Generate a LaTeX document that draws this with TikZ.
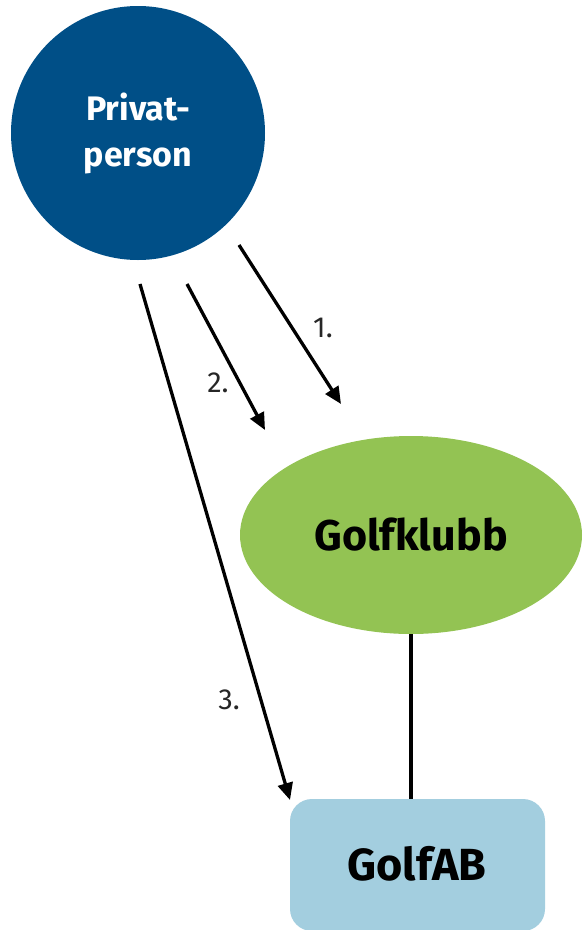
\documentclass[tikz,border=0pt]{standalone}
\usepackage{fontspec}
\setmainfont{Fira Sans}
\usetikzlibrary{shapes.geometric,arrows.meta}
\definecolor{pblue}{HTML}{004F87}
\definecolor{kgreen}{HTML}{93C353}
\definecolor{abblue}{HTML}{A3CEDF}
\begin{document}
\begin{tikzpicture}[x=1pt,y=-1pt,
  flow/.style={line width=3.3pt,-{Triangle[length=17pt,width=15pt]}},
  lbl/.style={font=\fontsize{29}{32}\selectfont,text=black!85},
  big/.style={font=\fontsize{43}{48}\selectfont\bfseries}]
\useasboundingbox (0,0) rectangle (582,930);
\node[circle,fill=pblue,minimum size=254pt,inner sep=0pt,text=white,align=center,
  font=\fontsize{34}{46}\selectfont\bfseries] (pp) at (138,133) {Privat-\\person};
\node[ellipse,fill=kgreen,minimum width=342pt,minimum height=198pt,inner sep=0pt,big] (gk) at (411,535) {Golfklubb};
\node[rectangle,rounded corners=22pt,fill=abblue,minimum width=255pt,minimum height=132pt,inner sep=0pt] (ab) at (417.5,865) {};
\node[font=\fontsize{45}{48}\selectfont\bfseries] (abt) at (417,864) {GolfAB};
\coordinate (s1) at (239,245); \coordinate (e1) at (341,404);
\coordinate (s2) at (187,284); \coordinate (e2) at (265,430);
\coordinate (s3) at (140,284); \coordinate (e3) at (290,800);
\draw[flow] (s1) -- (e1);
\draw[flow] (s2) -- (e2);
\draw[flow] (s3) -- (e3);
\draw[line width=3.3pt] (gk.south) -- (ab.north -| gk.south);
\node[lbl] (l1) at (323,328) {1.};
\node[lbl] (l2) at (218,383) {2.};
\node[lbl] (l3) at (229,700) {3.};
\end{tikzpicture}
\end{document}
